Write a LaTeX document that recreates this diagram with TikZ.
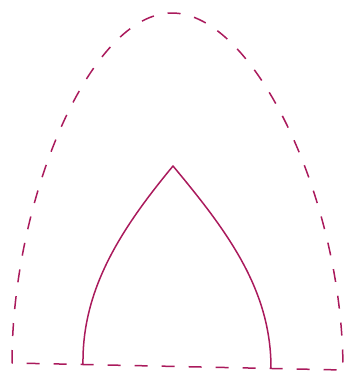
\documentclass[tikz,border=0pt]{standalone}
\definecolor{arch}{RGB}{170,26,92}
\begin{document}
\begin{tikzpicture}[x=1pt,y=-1pt,
  archline/.style={draw=arch,line width=1.5pt,line join=round},
  dashline/.style={archline,dash pattern=on 13pt off 14pt}]
\useasboundingbox (0,0) rectangle (344,373);
\coordinate (bl) at (12,363);
\coordinate (br) at (343,370);
\coordinate (top) at (172,13);
\coordinate (il) at (83,364);
\coordinate (ir) at (271,368);
\coordinate (apex) at (173,166);
% outer dashed arch and baseline
\draw[dashline] (bl) .. controls (12,200) and (90,13) .. (top)
  .. controls (254,13) and (343,200) .. (br) -- (bl);
% inner solid pointed arch
\draw[archline] (il) .. controls (82,290) and (120,230) .. (apex)
  .. controls (228,232) and (271,290) .. (ir);
\end{tikzpicture}
\end{document}
